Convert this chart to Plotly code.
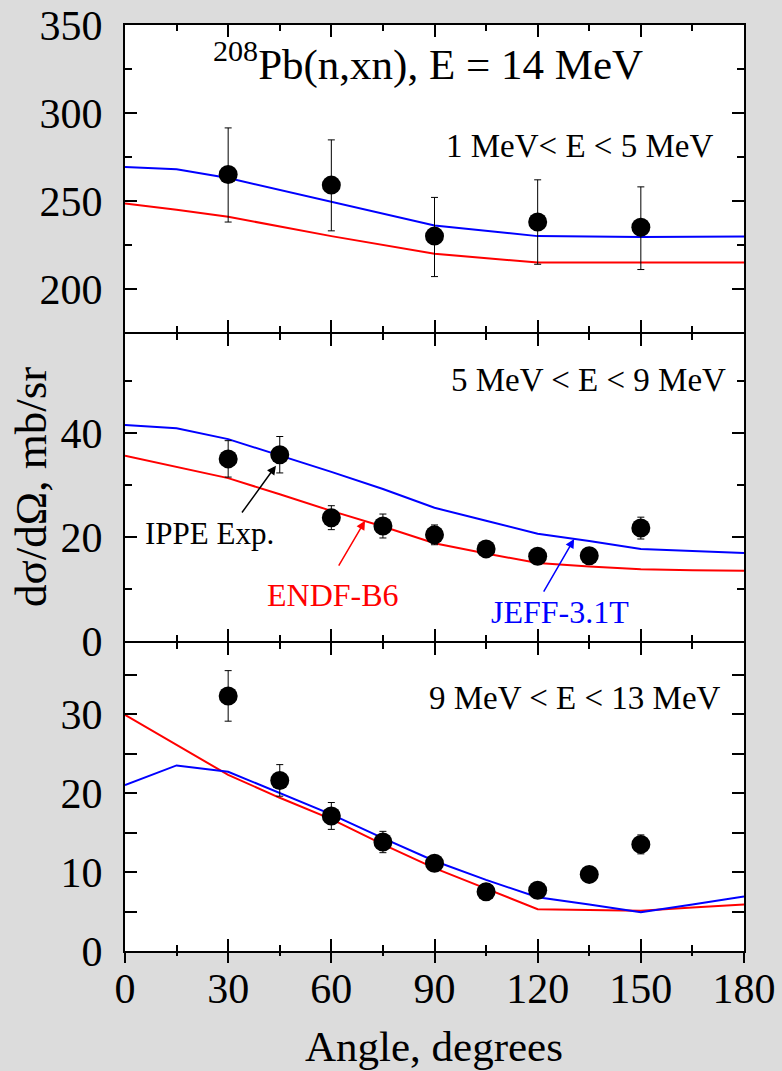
import plotly.graph_objects as go

# ---------------- data ----------------
exp_angles = [30, 45, 60, 75, 90, 105, 120, 135, 150]
model_angles = [0, 15, 30, 45, 60, 75, 90, 105, 120, 135, 150, 165, 180]

# panel 1: 1 MeV < E < 5 MeV
p1_angles = [30, 60, 90, 120, 150]
p1_exp = [265, 259, 230, 238, 235]
p1_err_up = [26.5, 25.7, 22, 24, 23]
p1_err_dn = [27, 26, 23, 24, 24]
p1_line_angles = [0, 15, 30, 60, 90, 120, 150, 180]
p1_jeff = [269.3, 268, 263, 249.4, 236, 230, 229.5, 229.8]
p1_endf = [248.5, 245, 241, 230, 220, 215, 215, 215]

# panel 2: 5 MeV < E < 9 MeV
p2_exp = [35.0, 35.8, 23.7, 22.1, 20.4, 17.7, 16.3, 16.4, 21.7]
p2_err = [3.5, 3.5, 2.3, 2.3, 1.9, 1.0, 1.0, 1.0, 2.1]
p2_jeff = [41.5, 40.9, 38.8, 35.7, 32.5, 29.2, 25.6, 23.1, 20.6, 19.2, 17.7, 17.3, 16.9]
p2_endf = [35.6, 33.5, 31.3, 28.2, 25.0, 22.0, 18.8, 16.8, 15.0, 14.3, 13.8, 13.6, 13.5]

# panel 3: 9 MeV < E < 13 MeV
p3_exp = [32.3, 21.6, 17.1, 13.8, 11.1, 7.5, 7.7, 9.7, 13.5]
p3_err = [3.2, 2.0, 1.7, 1.35, 0.8, 0.5, 0.6, 0.6, 1.2]
p3_jeff = [21.0, 23.5, 22.7, 20.0, 17.3, 14.3, 11.4, 9.0, 6.8, 5.9, 4.9, 5.9, 6.9]
p3_endf = [29.9, 26.1, 22.3, 19.4, 16.7, 13.5, 10.5, 7.9, 5.3, 5.2, 5.1, 5.5, 5.9]

x_ticks = [0, 30, 60, 90, 120, 150, 180]

FONT = "Times New Roman, 'Liberation Serif', Tinos, serif"
RED = "#ff0000"
BLUE = "#0000ff"

fig = go.Figure()

def add_panel(xa, ya, ang_line_b, blue, ang_line_r, red, ang_exp, exp, eup, edn):
    fig.add_trace(go.Scatter(x=ang_line_r, y=red, mode="lines", line=dict(color=RED, width=2),
                             xaxis=xa, yaxis=ya, showlegend=False, hoverinfo="skip"))
    fig.add_trace(go.Scatter(x=ang_line_b, y=blue, mode="lines", line=dict(color=BLUE, width=2),
                             xaxis=xa, yaxis=ya, showlegend=False, hoverinfo="skip"))
    fig.add_trace(go.Scatter(x=ang_exp, y=exp, mode="markers",
                             marker=dict(color="black", size=19, symbol="circle"),
                             error_y=dict(type="data", array=eup, arrayminus=edn, symmetric=False,
                                          color="black", thickness=1, width=3.5),
                             xaxis=xa, yaxis=ya, showlegend=False))

add_panel("x", "y", p1_line_angles, p1_jeff, p1_line_angles, p1_endf, p1_angles, p1_exp, p1_err_up, p1_err_dn)
add_panel("x2", "y2", model_angles, p2_jeff, model_angles, p2_endf, exp_angles, p2_exp, p2_err, p2_err)
add_panel("x3", "y3", model_angles, p3_jeff, model_angles, p3_endf, exp_angles, p3_exp, p3_err, p3_err)
# empty trace so the outward-tick overlay axis is drawn
fig.add_trace(go.Scatter(x=[], y=[], mode="lines", xaxis="x4", yaxis="y3",
                         showlegend=False, hoverinfo="skip"))

tickfont = dict(family=FONT, size=42, color="black")

def xax(anchor, labels, standoff=0):
    return dict(domain=[0, 1], anchor=anchor, range=[0, 180], tickvals=x_ticks,
                showticklabels=labels, ticks="inside", ticklen=12, tickwidth=1.5,
                tickcolor="black", automargin=False,
                minor=dict(dtick=15, tick0=0, ticks="inside", ticklen=6, tickwidth=1.5, tickcolor="black"),
                showline=True, linecolor="black", linewidth=2, mirror="allticks",
                showgrid=False, zeroline=False, tickfont=tickfont, ticklabelstandoff=standoff)

def yax(anchor, dom, rng, dtick, minor):
    return dict(domain=dom, anchor=anchor, range=rng, dtick=dtick, tick0=0,
                ticks="inside", ticklen=12, tickwidth=1.5, tickcolor="black", automargin=False,
                minor=dict(dtick=minor, tick0=0, ticks="inside", ticklen=7, tickwidth=1.5, tickcolor="black"),
                showline=True, linecolor="black", linewidth=2, mirror="allticks",
                showgrid=False, zeroline=False, tickfont=tickfont, ticklabelstandoff=12)

H = 926.0  # plot-area height in px
fig.update_layout(
    width=782, height=1071,
    margin=dict(l=125, r=38, t=25, b=120, autoexpand=False),
    paper_bgcolor="#dcdcdc", plot_bgcolor="white",
    font=dict(family=FONT, color="black"),
    xaxis=xax("y", False),
    xaxis2=xax("y2", False),
    xaxis3=xax("y3", True, standoff=0),
    # outward bottom ticks of the lowest panel
    xaxis4=dict(overlaying="x3", anchor="y3", side="bottom", range=[0, 180], tickvals=x_ticks,
                showticklabels=False, ticks="outside", ticklen=11, tickwidth=1.5, tickcolor="black",
                minor=dict(dtick=15, tick0=0, ticks="outside", ticklen=4, tickwidth=1.5, tickcolor="black"),
                showline=False, showgrid=False, zeroline=False, automargin=False),
    yaxis=yax("x", [619 / H, 1], [175.5, 350], 50, 25),
    yaxis2=yax("x2", [310 / H, 617 / H], [0, 59.0], 20, 10),
    yaxis3=yax("x3", [0, 308 / H], [0, 39], 10, 5),
)

ann = []
ann.append(dict(text="<sup>208</sup>Pb(n,xn), E = 14 MeV", xref="paper", yref="paper",
                x=0.489, y=(951 - 61) / H, xanchor="center", yanchor="middle", showarrow=False,
                font=dict(family=FONT, size=43, color="black")))
ann.append(dict(text="1 MeV< E < 5 MeV", xref="paper", yref="paper", x=(715 - 125) / 619,
                y=(951 - 146) / H, xanchor="right", yanchor="middle", showarrow=False,
                font=dict(family=FONT, size=33, color="black")))
ann.append(dict(text="5 MeV < E < 9 MeV", xref="paper", yref="paper", x=(728 - 125) / 619,
                y=(951 - 380) / H, xanchor="right", yanchor="middle", showarrow=False,
                font=dict(family=FONT, size=33, color="black")))
ann.append(dict(text="9 MeV < E < 13 MeV", xref="paper", yref="paper", x=(723 - 125) / 619,
                y=(951 - 698) / H, xanchor="right", yanchor="middle", showarrow=False,
                font=dict(family=FONT, size=33, color="black")))
# labels with arrows (middle panel)
ann.append(dict(text="IPPE Exp.", xref="x2", yref="y2", x=24.7, y=20.6, showarrow=False,
                font=dict(family=FONT, size=31, color="black")))
ann.append(dict(text="", xref="x2", yref="y2", x=43.9, y=33.7, axref="x2", ayref="y2", ax=33.7, ay=24.4,
                showarrow=True, arrowhead=2, arrowsize=1.2, arrowwidth=1.5, arrowcolor="black"))
ann.append(dict(text="ENDF-B6", xref="x2", yref="y2", x=60.5, y=8.8, showarrow=False,
                font=dict(family=FONT, size=32, color=RED)))
ann.append(dict(text="", xref="x2", yref="y2", x=69.8, y=23.1, axref="x2", ayref="y2", ax=61.9, ay=14.2,
                showarrow=True, arrowhead=2, arrowsize=1.2, arrowwidth=1.5, arrowcolor=RED))
ann.append(dict(text="JEFF-3.1T", xref="x2", yref="y2", x=126.5, y=5.6, showarrow=False,
                font=dict(family=FONT, size=32, color=BLUE)))
ann.append(dict(text="", xref="x2", yref="y2", x=130.6, y=19.6, axref="x2", ayref="y2", ax=121.5, ay=9.2,
                showarrow=True, arrowhead=2, arrowsize=1.2, arrowwidth=1.5, arrowcolor=BLUE))
# axis titles
ann.append(dict(text="dσ/dΩ, mb/sr", xref="paper", yref="paper", x=(31 - 125) / 619, y=(951 - 487) / H,
                xanchor="center", yanchor="middle", textangle=-90, showarrow=False,
                font=dict(family=FONT, size=45, color="black")))
ann.append(dict(text="Angle, degrees", xref="paper", yref="paper", x=(434 - 125) / 619, y=(951 - 1046) / H,
                xanchor="center", yanchor="middle", showarrow=False,
                font=dict(family=FONT, size=43, color="black")))
fig.update_layout(annotations=ann)

fig.write_html("out.html", config={"displayModeBar": False},
               post_script="document.body.style.margin='0px';document.body.style.background='#dcdcdc';")
